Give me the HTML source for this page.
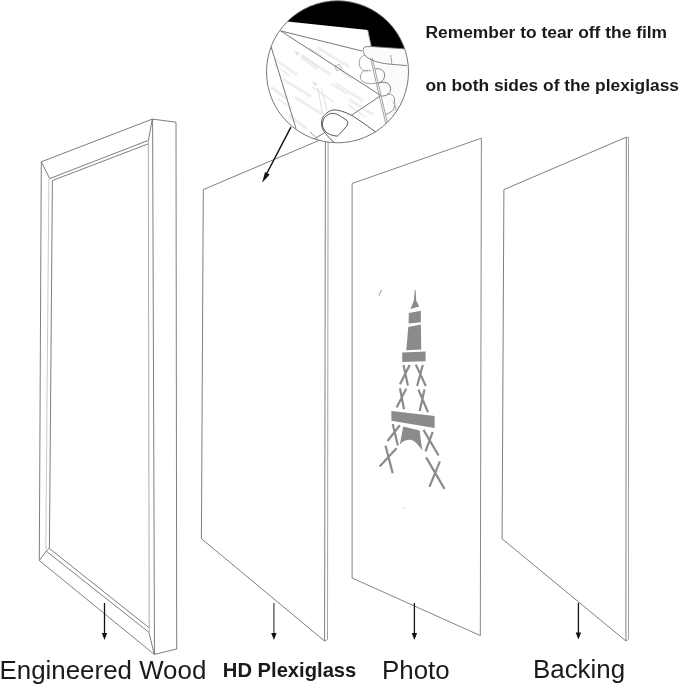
<!DOCTYPE html>
<html><head><meta charset="utf-8">
<style>
html,body{margin:0;padding:0;background:#fff;width:679px;height:686px;overflow:hidden}
svg{position:absolute;left:0;top:0}
.tx{will-change:transform}
text{font-family:"Liberation Sans",sans-serif}
</style></head><body>
<svg width="679" height="686" viewBox="0 0 679 686">
<!-- FRAME -->
<g fill="none" stroke="#707070" stroke-width="0.9" stroke-linejoin="round">
  <path d="M41.3 161.8 L152.3 119.1 L176 122.2 L176.7 649 L154.3 654.4 L39.3 560.5 Z"/>
  <path d="M152.6 119.1 L154.5 654.4"/>
  <path d="M41.3 161.8 L49.7 178.6 L148.4 140.3 L152.3 119.1"/>
  <path d="M52.4 180.5 L147.9 144"/>
  <path d="M39.3 560.5 L46.3 551 L49.2 548.3 L148.9 627.6"/>
  <path d="M46.3 551.2 L148.9 632.3 L154.3 654.4"/>
  <path d="M52.4 180.5 L49.4 548.3"/>
</g>
<g fill="none" stroke="#a0a0a0" stroke-width="0.9">
  <path d="M148.3 140.5 L149.2 632"/>
</g>
<g fill="none" stroke="#c4c4c4" stroke-width="0.9">
  <path d="M48.9 179 L45.8 549.6"/>
</g>
<!-- PLEXIGLASS -->
<g fill="none" stroke="#707070" stroke-width="0.9">
  <path d="M325.4 137.7 L203.3 189.6 L201.4 538.7 L324.6 641 L325.4 137.7"/>
  <path d="M328.1 136.5 L327.5 639.7 L324.6 641" stroke="#999"/>
</g>
<!-- PHOTO -->
<g fill="none" stroke="#777" stroke-width="0.9">
  <path d="M352.1 183.5 L481.4 138.2 L480.3 635.6 L352.1 578 Z"/>
</g>
<!-- BACKING -->
<g fill="none" stroke="#707070" stroke-width="0.9">
  <path d="M503.9 189.6 L626.3 137.2 L625.9 641 L502.1 538.8 Z"/>
  <path d="M626.3 137.2 L628.5 137.2 L628.5 639.3 L625.9 641" stroke="#999"/>
</g>
<!-- EIFFEL TOWER -->
<g fill="#8b8b8b" stroke="none">
  <path d="M414.7 290.2 L415.7 290.2 L416.2 300.5 L419.2 306.6 L410.4 308.9 L414 300.5 Z"/>
  <path d="M408.8 313 L420.9 310.7 L420.9 322.3 L408.6 323.6 Z"/>
  <path d="M408.3 327 L420.9 324.6 L421.2 349.6 L406.3 350.3 Z"/>
  <path d="M402.2 352.6 L425.6 351.4 L425.6 361.3 L402.2 361.9 Z"/>
  <path d="M391.4 410.9 L434.6 416.1 L434.6 427.9 L391.4 420.7 Z"/>
  <path d="M403.2 426.6 L419.6 430.6 L422.2 450.2 C418 444 413 439 409.1 439.7 C405 440 402 442 399.9 444.3 Z"/>
</g>
<g fill="none" stroke="#8b8b8b" stroke-width="2.2" stroke-linecap="butt">
  <path d="M403.5 365 L407.9 385.6 M409.7 365 L400 384.3"/>
  <path d="M415.8 364.6 L425.8 386 M422.8 365 L417.1 386"/>
  <path d="M400 388.2 L404 409.2 M406.2 388.7 L396.6 407.4"/>
  <path d="M418.4 389.5 L428 412.3 M424.5 389.5 L419.7 411"/>
  <path d="M392.7 424 L397.9 445.6 M399.9 425.3 L387.5 441"/>
  <path d="M385.5 445.6 L392.7 473.2 M396.6 448.2 L379.6 466.6"/>
  <path d="M423.5 429.9 L438.6 455.5 M432.7 431.9 L425.5 451.5"/>
  <path d="M426.1 457.4 L444.5 488.9 M439.9 461.4 L429.4 486.9"/>
</g>
<path d="M379.2 295.3 L381.4 290" stroke="#b0b0b0" stroke-width="1.1" stroke-linecap="round"/>
<circle cx="404.4" cy="508.2" r="0.9" fill="#cfcfcf"/>
<!-- ARROWS -->
<g stroke="#111" stroke-width="1.3" fill="#111">
  <path d="M104.5 603 L104.5 634"/>
  <path d="M101.8 633 L107.2 633 L104.5 640 Z" stroke="none"/>
  <path d="M273.9 603 L273.9 634" stroke="#666" stroke-width="1.5"/>
  <path d="M271.2 633 L276.6 633 L273.9 640 Z" stroke="none"/>
  <path d="M414.4 603 L414.4 634"/>
  <path d="M411.7 633 L417.1 633 L414.4 640 Z" stroke="none"/>
  <path d="M578.4 603 L578.4 634"/>
  <path d="M575.7 632.5 L581.1 632.5 L578.4 639.5 Z" stroke="none"/>
  <path d="M290.9 127.1 L266 175" stroke-width="1.45"/>
  <path d="M262.1 182.7 L265.1 172 L269.7 174.5 Z" stroke="none"/>
</g>
<!-- MAGNIFIER -->
<defs><clipPath id="cc"><circle cx="337.5" cy="71.8" r="71"/></clipPath></defs>
<circle cx="337.5" cy="71.8" r="71" fill="#fff"/>
<g clip-path="url(#cc)">
  <!-- faint film smudges -->
  <g stroke="#efefef" stroke-width="3.2" fill="none" stroke-linecap="round">
    <path d="M276 60 L296 74 M284 80 L310 96 M302 56 L330 74 M318 48 L348 66 M296 98 L322 114 M336 84 L362 100 M290 116 L306 128 M350 100 L372 114 M272 88 L286 98"/>
  </g>
  <g stroke="#d6d6d6" stroke-width="0.8" fill="none" stroke-linecap="round">
    <path d="M301.3 57.7 L316.6 69.5 M303 56 L318 67.5 M341 71 L352 79 M312 87 L334 102 M309 48 L322 56 M278 99 L292 109 M348 105 L366 117 M331 84 L347 94 M274 64 L290 76"/>
    <path d="M317.7 88.3 L322.4 113 M321.5 89 L327 110.6"/>
    <path d="M335.3 66 L339.5 64.2 L341.8 69 L337 70.6 Z" stroke="#aaa"/>
  </g>
  <g fill="#e3e3e3" stroke="none">
    <path d="M294 50.6 L300 53 L297 56 Z"/>
    <path d="M312 81 L318 84 L315 86.5 Z"/>
    <path d="M278 126 L284 129 L281 131 Z"/>
  </g>
  <!-- black background -->
  <path d="M250 -2 L430 -2 L430 48.5 L405.4 48.9 L371.2 46.5 L367.7 30 L285 21.3 L250 17 Z" fill="#000"/>
  <!-- hand light shading -->
  <g fill="#fbfbfb" stroke="none">
    <path d="M364.1 46.6 L405.4 48.9 L410 66 L391.5 64.3 L371.2 59.4 L366 55 Z"/>
    <path d="M380 66 L410 66 L410 130 L388 123 Z"/>
  </g>
  <g fill="none" stroke="#686868" stroke-width="0.9" stroke-linejoin="round">
    <path d="M367.7 30 L371.2 46.5" stroke="#999"/>
    <path d="M280.6 30.9 L380.8 95.6"/>
    <path d="M280.6 30.9 L362 51"/>
    <path d="M271.2 47.1 L296 128.5"/>
    <path d="M380.8 95.6 L351.5 115.3 M324.1 133 L296 150"/>
    <!-- top finger -->
    <path d="M405.4 48.9 L371.2 46.5 L365 46.8 C362.5 48 362.8 52 365 55.5 C367 58 371 59.8 376 61.6 C382 63.3 387 64 391.5 64.3 L407 65.6" stroke="#707070"/>
    <path d="M390.5 55 C391.5 58 391.8 62 391.5 64.3" stroke="#999"/>
    <!-- finger bumps -->
    <path d="M366 55.5 C362 55 359.3 58 359.3 63 C359.3 68 362 71 368 71" stroke="#999"/>
    <path d="M371 71 C364 69 360 72 360.5 78 C361 83 368 84.5 378.6 83" stroke="#999"/>
    <path d="M375.3 68.8 C381 68 385 71 384.6 76 C384.3 80 381 82.5 378.6 83" stroke="#707070"/>
    <path d="M378.6 83 C385 81 390 83 390.6 88.4 C391 93 387 96 381.9 96.1" stroke="#707070"/>
    <path d="M387.4 93.9 C392 94 394.5 96 394.5 100 C394.8 104 394.5 107 393.9 109.2 C392 112 388 113.5 385.2 114.7" stroke="#888"/>
    <path d="M392.8 101.6 C395 104 396 108 396.1 111.4" stroke="#aaa"/>
    <!-- thumb outer -->
    <path d="M333.9 142 C330 139 326 135 323.3 130.3 C321 126 321 121 322.5 118 C324 115 328 111 333 110 C338 109.5 345 112 351.5 115.3 C356 118 365 124 375.3 131.8 L380 136" stroke="#444"/>
    <!-- thumbnail -->
    <path d="M330.3 113.6 C334 112.5 338 114 347.1 120.6 C348.5 122 347.5 125 346.2 126.8 C343 130 340 134 337.4 136.1 C333 136 328 134 325.9 132.1 C323.5 129 322 126 322.4 123.3 C323 120 324 117.5 325.9 116.2 C327.5 115 329 114 330.3 113.6 Z" stroke="#444"/>
    <path d="M310 132.1 L318 139.2" stroke="#999"/>
  </g>
  <g stroke="#8a8a8a" stroke-width="0.8" fill="none">
    <path d="M370.5 58 L385.8 123.8"/>
    <path d="M372.3 58 L387.6 123.5"/>
  </g>
</g>
<circle cx="337.5" cy="71.8" r="71" fill="none" stroke="#666" stroke-width="0.9"/>
</svg>
<svg class="tx" width="679" height="686" viewBox="0 0 679 686">
<!-- TEXT -->
<g fill="#1a1a1a">
<text x="425.5" y="37.8" font-size="17.4" font-weight="bold">Remember to tear off the film</text>
<text x="425.5" y="90.8" font-size="17.35" font-weight="bold">on both sides of the plexiglass</text>
<text x="-0.5" y="678.8" font-size="25.9">Engineered Wood</text>
<text x="222.8" y="676.5" font-size="20.2" font-weight="bold">HD Plexiglass</text>
<text x="382" y="678.8" font-size="25.9">Photo</text>
<text x="533" y="677.9" font-size="25.9">Backing</text>
</g>
</svg>
</body></html>
